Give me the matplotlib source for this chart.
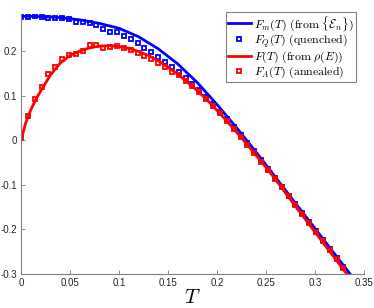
import matplotlib
matplotlib.use("Agg")
import matplotlib.pyplot as plt
import numpy as np

plt.rcParams['mathtext.fontset'] = 'cm'
plt.rcParams['font.family'] = 'Liberation Sans'

# F_m(T) from {E_n}  (blue line)
T_m = [0, 0.02, 0.04, 0.06, 0.08, 0.10, 0.12, 0.14, 0.16, 0.18, 0.20, 0.22,
       0.24, 0.26, 0.28, 0.30, 0.32, 0.34]
F_m = [0.278, 0.2775, 0.275, 0.270, 0.262, 0.251, 0.232, 0.205, 0.171, 0.129,
       0.080, 0.028, -0.027, -0.084, -0.141, -0.198, -0.255, -0.312]

# F(T) from rho(E)  (red line)
T_r = [0, 0.005, 0.01, 0.015, 0.02, 0.025, 0.03, 0.04, 0.05, 0.06, 0.07, 0.08,
       0.09, 0.10, 0.11, 0.12, 0.13, 0.14, 0.15, 0.16, 0.17, 0.18, 0.19, 0.20,
       0.21, 0.22, 0.23, 0.24, 0.25, 0.26, 0.28, 0.30, 0.32, 0.34]
F_r = [0.0, 0.040, 0.068, 0.091, 0.110, 0.128, 0.146, 0.173, 0.190, 0.200,
       0.207, 0.211, 0.212, 0.210, 0.206, 0.199, 0.190, 0.178, 0.164, 0.148,
       0.130, 0.111, 0.090, 0.067, 0.043, 0.018, -0.008, -0.034, -0.061,
       -0.089, -0.148, -0.206, -0.264, -0.322]

# sampled temperatures for the markers
T_pts = [0.007 * k for k in range(48)]

F_Q = [0.2755, 0.2755, 0.2785, 0.2755, 0.273, 0.273, 0.2747, 0.271, 0.266, 0.264,
       0.262, 0.258, 0.249, 0.243, 0.242, 0.233, 0.226, 0.217, 0.207, 0.197,
       0.187, 0.175, 0.164, 0.153, 0.140, 0.126, 0.112, 0.096, 0.081, 0.064,
       0.047, 0.030, 0.012, -0.006, -0.025, -0.044, -0.064, -0.084, -0.104,
       -0.124, -0.144, -0.164, -0.184, -0.204, -0.224, -0.244, -0.264, -0.284]

F_A = [0.006, 0.055, 0.092, 0.119, 0.148, 0.165, 0.181, 0.190, 0.194, 0.200,
       0.213, 0.214, 0.207, 0.210, 0.211, 0.206, 0.203, 0.196, 0.189, 0.182,
       0.173, 0.164, 0.154, 0.146, 0.133, 0.121, 0.107, 0.092, 0.076, 0.060,
       0.043, 0.025, 0.008, -0.011, -0.029, -0.048, -0.067, -0.086, -0.106,
       -0.126, -0.146, -0.166, -0.186, -0.206, -0.226, -0.246, -0.266, -0.286]

xticks = [0, 0.05, 0.1, 0.15, 0.2, 0.25, 0.3, 0.35]
xticklabels = ['0', '0.05', '0.1', '0.15', '0.2', '0.25', '0.3', '0.35']
yticks = [-0.3, -0.2, -0.1, 0, 0.1, 0.2]
yticklabels = ['-0.3', '-0.2', '-0.1', '0', '0.1', '0.2']

fig = plt.figure(figsize=(3.74, 3.08), dpi=100)
ax = fig.add_axes([0.0561, 0.1104, 0.9172, 0.8441])

ax.plot(T_m, F_m, color='#0000ff', lw=2,
        label=r'$F_m(T)\ \mathrm{(from}\ \{\mathcal{E}_n\}\mathrm{)}$')
ax.plot(T_pts, F_Q, 's', color='#0000ff', mfc='none', mew=1.3, ms=3,
        label=r'$F_Q(T)\ \mathrm{(quenched)}$')
ax.plot(T_r, F_r, color='#ff0000', lw=2,
        label=r'$F(T)\ \mathrm{(from}\ \rho(E)\mathrm{)}$')
ax.plot(T_pts, F_A, 's', color='#ff0000', mfc='none', mew=1.3, ms=3,
        label=r'$F_A(T)\ \mathrm{(annealed)}$')

ax.set_xlim(0, 0.35)
ax.set_ylim(-0.3, 0.283)
ax.set_xticks(xticks)
ax.set_xticklabels(xticklabels)
ax.set_yticks(yticks)
ax.set_yticklabels(yticklabels)

grey = '#262626'
for s in ['top', 'right']:
    ax.spines[s].set_visible(False)
for s in ['left', 'bottom']:
    ax.spines[s].set_color('#808080')
    ax.spines[s].set_linewidth(0.8)
ax.tick_params(direction='in', length=3, width=0.6, colors='#808080',
               labelcolor=grey, labelsize=7, pad=3)

ax.set_xlabel(r'$T$', fontsize=15, labelpad=0)

leg = ax.legend(loc='upper right', bbox_to_anchor=(356 / 374, 1 - 12 / 308),
                bbox_transform=fig.transFigure, fontsize=8.6,
                frameon=True, fancybox=False, framealpha=1, edgecolor='#808080',
                handlelength=1.9, handletextpad=0.3, borderpad=0.15,
                labelspacing=0.0, borderaxespad=0)
leg.get_frame().set_linewidth(0.8)

fig.savefig('out.png', dpi=100)
